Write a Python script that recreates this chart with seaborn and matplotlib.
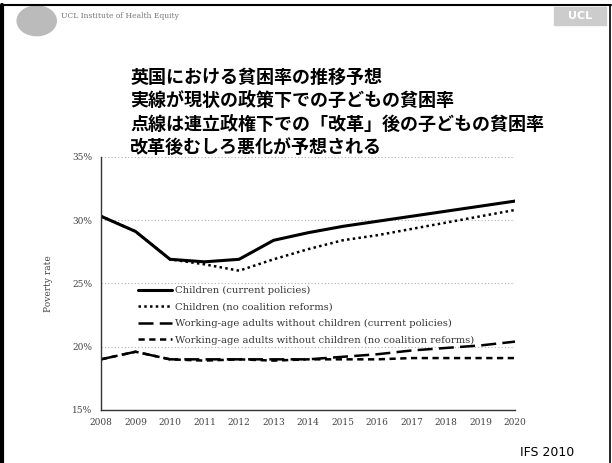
import matplotlib
matplotlib.use("Agg")
import matplotlib.pyplot as plt
import matplotlib.patches as mpatches
import matplotlib.lines as mlines
import seaborn as sns
import pandas as pd

years = list(range(2008, 2021))
children_current = [30.3, 29.1, 26.9, 26.7, 26.9, 28.4, 29.0, 29.5, 29.9, 30.3, 30.7, 31.1, 31.5]
children_noreform = [30.3, 29.1, 26.9, 26.5, 26.0, 26.9, 27.7, 28.4, 28.8, 29.3, 29.8, 30.3, 30.8]
adults_current = [19.0, 19.6, 19.0, 19.0, 19.0, 19.0, 19.0, 19.2, 19.4, 19.7, 19.9, 20.1, 20.4]
adults_noreform = [19.0, 19.6, 19.0, 18.9, 19.0, 18.9, 19.0, 19.0, 19.0, 19.1, 19.1, 19.1, 19.1]

series_names = [
    "Children (current policies)",
    "Children (no coalition reforms)",
    "Working-age adults without children (current policies)",
    "Working-age adults without children (no coalition reforms)",
]
title_lines = [
    "英国における貧困率の推移予想",
    "実線が現状の政策下での子どもの貧困率",
    "点線は連立政権下での「改革」後の子どもの貧困率",
    "改革後むしろ悪化が予想される",
]
yticks = [15, 20, 25, 30, 35]

sns.set_theme(style="white")
plt.rcParams["font.family"] = ["Noto Sans CJK JP", "DejaVu Sans"]

rows = []
for name, vals in zip(series_names, [children_current, children_noreform, adults_current, adults_noreform]):
    for y, v in zip(years, vals):
        rows.append({"year": y, "rate": v, "series": name})
df = pd.DataFrame(rows)

fig = plt.figure(figsize=(6.12, 4.63), dpi=100)
ax = fig.add_axes([0.165, 0.1145, 0.677, 0.547])

dashes = {
    series_names[0]: "",
    series_names[1]: (1, 1.3),
    series_names[2]: (6, 2.5),
    series_names[3]: (2.5, 1.8),
}
widths = {series_names[0]: 2.2, series_names[1]: 1.8, series_names[2]: 1.8, series_names[3]: 1.8}
for name in series_names:
    sub = df[df["series"] == name]
    sns.lineplot(data=sub, x="year", y="rate", ax=ax, color="black",
                 linewidth=widths[name], dashes=False, label=name, legend=False)
    ln = ax.lines[-1]
    if dashes[name]:
        ln.set_dashes(dashes[name])

ax.set_xlim(2008, 2020)
ax.set_ylim(15, 35)
ax.set_xticks(years)
ax.set_xticklabels([str(y) for y in years], fontsize=6.5, color="#444444", family="DejaVu Serif")
ax.set_yticks(yticks)
ax.set_yticklabels([f"{t}%" for t in yticks], fontsize=6.5, color="#444444", family="DejaVu Serif")
ax.tick_params(axis="both", length=0, pad=6)
ax.set_xlabel("")
ax.set_ylabel("Poverty rate", fontsize=6.5, color="#444444", family="DejaVu Serif", labelpad=14)
for y in yticks[1:]:
    ax.axhline(y, color="#b0b0b0", linestyle=(0, (1, 2)), linewidth=0.8, zorder=0)
for s in ["top", "right"]:
    ax.spines[s].set_visible(False)
for s in ["left", "bottom"]:
    ax.spines[s].set_color("#333333")
    ax.spines[s].set_linewidth(1.0)
    ax.spines[s].set_linestyle((0, (1, 1)))

handles = []
for name in series_names:
    h = mlines.Line2D([], [], color="black", linewidth=widths[name])
    if dashes[name]:
        h.set_dashes(dashes[name])
    handles.append(h)
leg = ax.legend(handles, series_names, loc="upper left", bbox_to_anchor=(0.08, 0.505),
                frameon=False, fontsize=7.2, handlelength=3.4, handletextpad=0.3,
                labelspacing=0.75, borderaxespad=0)
for t in leg.get_texts():
    t.set_color("#333333")
    t.set_family("DejaVu Serif")

# title text
ys = [0.833, 0.782, 0.731, 0.681]
for txt, y in zip(title_lines, ys):
    fig.text(0.213, y, txt, fontsize=13, fontweight="bold", color="black",
             va="center", ha="left", family=["Noto Sans CJK JP", "DejaVu Sans"])

# slide decorations
fig.text(0.1, 0.966, "UCL Institute of Health Equity", fontsize=5.5, color="#777777",
         va="center", ha="left", family="DejaVu Serif")
fig.add_artist(mpatches.Circle((0.06, 0.955), 0.032, transform=fig.transFigure,
                               color="#bbbbbb", zorder=0))
fig.add_artist(mpatches.Rectangle((0.905, 0.945), 0.085, 0.04, transform=fig.transFigure,
                                  color="#cccccc", zorder=0))
fig.text(0.947, 0.965, "UCL", fontsize=8, color="white", fontweight="bold",
         ha="center", va="center", family="DejaVu Sans")
fig.text(0.85, 0.008, "IFS 2010", fontsize=9, color="black", ha="left", va="bottom",
         family="DejaVu Sans")

# slide frame
fig.add_artist(mlines.Line2D([0.004, 0.004], [0, 0.99], transform=fig.transFigure,
                             color="black", linewidth=3))
fig.add_artist(mlines.Line2D([0.004, 0.998], [0.99, 0.99], transform=fig.transFigure,
                             color="black", linewidth=1.5))
fig.add_artist(mlines.Line2D([0.997, 0.997], [0, 0.99], transform=fig.transFigure,
                             color="black", linewidth=1.2))

fig.savefig("out.png", dpi=100, facecolor="white")
